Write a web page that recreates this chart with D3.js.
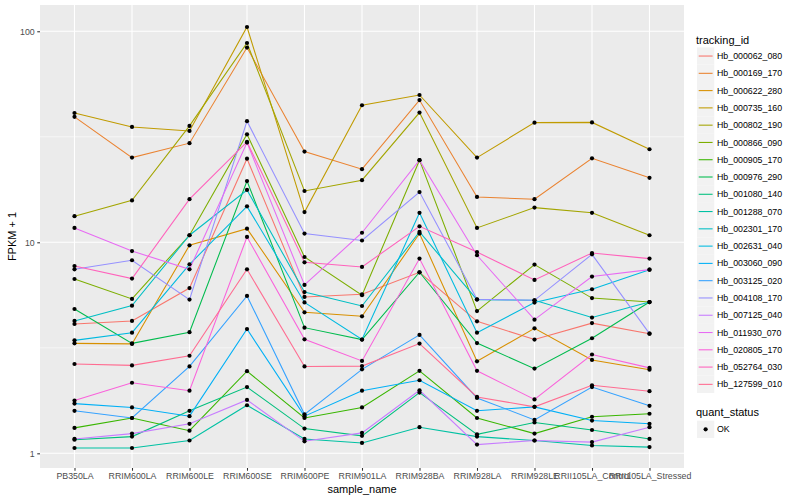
<!DOCTYPE html>
<html>
<head>
<meta charset="utf-8">
<script src="https://cdn.jsdelivr.net/npm/d3@7"></script>
<style>
  body { margin: 0; background: #fff; }
  svg { font-family: "Liberation Sans", Arial, sans-serif; }
</style>
</head>
<body>
<svg id="chart" width="800" height="500"></svg>
<script>
// sample names on the x axis
const categories = ["PB350LA", "RRIM600LA", "RRIM600LE", "RRIM600SE", "RRIM600PE", "RRIM901LA",
  "RRIM928BA", "RRIM928LA", "RRIM928LE", "RRII105LA_Control", "RRII105LA_Stressed"];

const trackingIds = ["Hb_000062_080", "Hb_000169_170", "Hb_000622_280", "Hb_000735_160", "Hb_000802_190",
  "Hb_000866_090", "Hb_000905_170", "Hb_000976_290", "Hb_001080_140", "Hb_001288_070",
  "Hb_002301_170", "Hb_002631_040", "Hb_003060_090", "Hb_003125_020", "Hb_004108_170",
  "Hb_007125_040", "Hb_011930_070", "Hb_020805_170", "Hb_052764_030", "Hb_127599_010"];

// FPKM + 1, one row per tracking id, one value per sample
const fpkmPlusOne = [
  [4.10, 4.24, 6.07, 24.9, 5.51, 5.67, 7.21, 4.22, 3.46, 4.14, 3.69],
  [39.3, 25.2, 29.5, 83.7, 26.9, 22.2, 47.2, 16.4, 16.0, 25.0, 20.2],
  [3.32, 3.30, 9.68, 11.6, 4.66, 4.46, 11.0, 2.73, 3.91, 2.77, 2.49],
  [41.0, 35.2, 33.7, 104.8, 13.9, 44.6, 49.9, 25.2, 36.9, 37.0, 27.6],
  [13.3, 15.8, 35.6, 88.0, 17.5, 19.7, 41.2, 11.7, 14.6, 13.8, 10.8],
  [6.70, 5.39, 10.8, 32.5, 8.52, 5.61, 24.5, 4.72, 7.84, 5.44, 5.21],
  [1.32, 1.47, 1.28, 2.45, 1.47, 1.65, 2.46, 1.47, 1.24, 1.49, 1.54],
  [4.83, 3.32, 3.75, 19.5, 3.94, 3.46, 7.21, 3.33, 2.52, 3.51, 5.21],
  [1.16, 1.20, 1.59, 2.06, 1.31, 1.21, 1.94, 1.23, 1.40, 1.29, 1.17],
  [1.06, 1.06, 1.15, 1.69, 1.17, 1.12, 1.33, 1.20, 1.15, 1.09, 1.07],
  [4.24, 5.01, 10.8, 17.7, 5.81, 4.99, 11.2, 5.35, 5.31, 4.40, 5.21],
  [3.43, 3.73, 7.86, 14.8, 5.19, 3.46, 13.8, 3.73, 5.18, 5.99, 7.42],
  [1.72, 1.65, 1.50, 3.88, 1.50, 1.98, 2.22, 1.59, 1.66, 1.43, 1.38],
  [1.59, 1.47, 2.58, 5.57, 1.53, 2.50, 3.64, 1.83, 1.44, 2.06, 1.68],
  [7.45, 8.22, 5.35, 37.5, 11.0, 10.2, 17.3, 5.37, 5.31, 8.77, 3.69],
  [1.17, 1.24, 1.38, 1.79, 1.14, 1.25, 1.99, 1.10, 1.15, 1.13, 1.33],
  [11.7, 9.09, 7.45, 29.7, 6.28, 11.1, 24.5, 8.68, 4.30, 6.88, 7.42],
  [1.78, 2.16, 1.98, 10.6, 3.47, 2.74, 8.37, 2.46, 1.80, 2.94, 2.54],
  [7.72, 6.73, 16.0, 29.9, 8.04, 7.64, 11.9, 8.99, 6.63, 8.90, 8.37],
  [2.65, 2.61, 2.90, 7.45, 2.58, 2.59, 3.31, 1.85, 1.66, 2.10, 1.97]
];

const yTicks = [1, 10, 100];
const yMinor = [Math.sqrt(10), Math.sqrt(1000)];
const quantStatus = ["OK"];

// ggplot default hue palette for 20 levels
const palette = ["#F8766D", "#EA8331", "#D89000", "#C09B00", "#A3A500", "#7CAE00", "#39B600", "#00BB4E",
  "#00BF7D", "#00C1A3", "#00BFC4", "#00BAE0", "#00B0F6", "#35A2FF", "#9590FF", "#C77CFF",
  "#E76BF3", "#FA62DB", "#FF62BC", "#FF6C91"];

var svg = d3.select("#chart");
var panel = { left: 40, right: 684, top: 5, bottom: 468 };

var x = d3.scalePoint().domain(categories).range([panel.left, panel.right]).padding(0.6);
var y = d3.scaleLog().domain([0.852, 133.2]).range([panel.bottom, panel.top]);
var color = d3.scaleOrdinal().domain(trackingIds).range(palette);

svg.append("rect")
  .attr("x", panel.left).attr("y", panel.top)
  .attr("width", panel.right - panel.left).attr("height", panel.bottom - panel.top)
  .attr("fill", "#EBEBEB");

var grid = svg.append("g");
grid.selectAll(".minor").data(yMinor).enter().append("line")
  .attr("x1", panel.left).attr("x2", panel.right)
  .attr("y1", d => y(d)).attr("y2", d => y(d))
  .attr("stroke", "#fff").attr("stroke-width", 0.55);
grid.selectAll(".major").data(yTicks).enter().append("line")
  .attr("x1", panel.left).attr("x2", panel.right)
  .attr("y1", d => y(d)).attr("y2", d => y(d))
  .attr("stroke", "#fff").attr("stroke-width", 1.1);
grid.selectAll(".vert").data(categories).enter().append("line")
  .attr("x1", d => x(d)).attr("x2", d => x(d))
  .attr("y1", panel.top).attr("y2", panel.bottom)
  .attr("stroke", "#fff").attr("stroke-width", 1.1);

var series = trackingIds.map((id, i) => ({
  id: id,
  values: categories.map((c, j) => ({ cat: c, v: fpkmPlusOne[i][j] }))
}));

var line = d3.line().x(d => x(d.cat)).y(d => y(d.v));

svg.append("g").selectAll("path").data(series).enter().append("path")
  .attr("d", d => line(d.values))
  .attr("fill", "none")
  .attr("stroke", d => color(d.id))
  .attr("stroke-width", 1.07);

svg.append("g").selectAll("g").data(series).enter().append("g")
  .selectAll("circle").data(d => d.values).enter().append("circle")
  .attr("cx", d => x(d.cat)).attr("cy", d => y(d.v))
  .attr("r", 2.1).attr("fill", "#000");

// axes
var xAxis = d3.axisBottom(x).tickSize(2.75).tickPadding(2.5);
var gx = svg.append("g").attr("transform", "translate(0," + panel.bottom + ")").call(xAxis);
var yAxis = d3.axisLeft(y).tickValues(yTicks).tickFormat(d3.format("d")).tickSize(2.75).tickPadding(2.5);
var gy = svg.append("g").attr("transform", "translate(" + panel.left + ",0)").call(yAxis);
[gx, gy].forEach(g => {
  g.select(".domain").remove();
  g.selectAll(".tick line").attr("stroke", "#333333").attr("stroke-width", 1.07);
  g.selectAll(".tick text").attr("fill", "#4D4D4D").attr("font-size", "8.8px")
    .attr("font-family", "Liberation Sans, Arial, sans-serif");
});

svg.append("text").attr("x", (panel.left + panel.right) / 2).attr("y", 493)
  .attr("text-anchor", "middle").attr("font-size", "11px").text("sample_name");
svg.append("text").attr("transform", "translate(16," + ((panel.top + panel.bottom) / 2) + ") rotate(-90)")
  .attr("text-anchor", "middle").attr("font-size", "11px").text("FPKM + 1");

// legend: tracking_id
var leg = svg.append("g");
leg.append("text").attr("x", 696).attr("y", 43.5).attr("font-size", "11px").text("tracking_id");
var keyStep = 17.28, keyTop = 47.4;
var items = leg.selectAll(".item").data(trackingIds).enter().append("g")
  .attr("transform", (d, i) => "translate(697," + (keyTop + i * keyStep) + ")");
items.append("rect").attr("width", 17.28).attr("height", 17.28).attr("fill", "#F2F2F2");
items.append("line").attr("x1", 1.7).attr("x2", 15.6).attr("y1", 8.64).attr("y2", 8.64)
  .attr("stroke", d => color(d)).attr("stroke-width", 1.07);
items.append("text").attr("x", 20).attr("y", 8.64).attr("dy", "0.35em")
  .attr("font-size", "8.8px").text(d => d);

// legend: quant_status
var leg2 = svg.append("g");
leg2.append("text").attr("x", 696).attr("y", 416).attr("font-size", "11px").text("quant_status");
var q = leg2.selectAll(".q").data(quantStatus).enter().append("g")
  .attr("transform", (d, i) => "translate(697," + (420.7 + i * keyStep) + ")");
q.append("rect").attr("width", 17.28).attr("height", 17.28).attr("fill", "#F2F2F2");
q.append("circle").attr("cx", 8.64).attr("cy", 8.64).attr("r", 2.1).attr("fill", "#000");
q.append("text").attr("x", 20).attr("y", 8.64).attr("dy", "0.35em").attr("font-size", "8.8px").text(d => d);
</script>
</body>
</html>
